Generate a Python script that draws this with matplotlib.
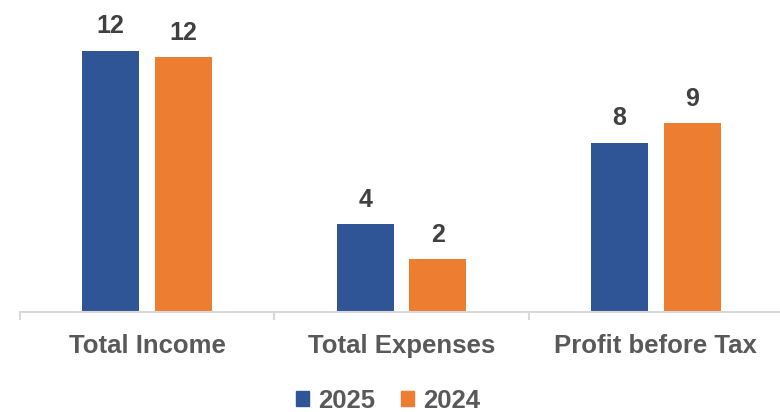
import matplotlib
matplotlib.use("Agg")
import matplotlib.pyplot as plt
import numpy as np
from matplotlib.patches import Patch

categories = ["Total Income", "Total Expenses", "Profit before Tax"]
series_names = ["2025", "2024"]
values_2025 = [11.9, 4.0, 7.7]
values_2024 = [11.6, 2.4, 8.6]
labels_2025 = ["12", "4", "8"]
labels_2024 = ["12", "2", "9"]

colors = ["#2F5597", "#ED7D31"]

plt.rcParams['font.family'] = ['Liberation Sans', 'DejaVu Sans']

fig = plt.figure(figsize=(7.8, 4.12), dpi=100)
ax = fig.add_axes([20/780, 1 - 312/412, 763/780, 312/412])

x = np.arange(len(categories))
w = 0.224
off = 0.143
b1 = ax.bar(x - off, values_2025, w, color=colors[0])
b2 = ax.bar(x + off, values_2024, w, color=colors[1])

for bars, labs in ((b1, labels_2025), (b2, labels_2024)):
    for b, l in zip(bars, labs):
        ax.annotate(l, (b.get_x() + b.get_width()/2, b.get_height()),
                    xytext=(0, 9), textcoords="offset points",
                    ha="center", va="bottom", fontsize=18,
                    fontweight="bold", color="#404040")

ax.set_xlim(-0.5, 2.5)
ax.set_ylim(0, 14.2)
ax.set_yticks([])
ax.set_xticks(x)
ax.set_xticklabels(categories, fontsize=18.5, fontweight="bold", color="#595959")
ax.tick_params(axis="x", which="major", length=0, pad=16)
ax.set_xticks([-0.5, 0.5, 1.5, 2.5], minor=True)
ax.tick_params(axis="x", which="minor", length=6, width=1.5, color="#D9D9D9", direction="out")
for s in ["top", "right", "left"]:
    ax.spines[s].set_visible(False)
ax.spines["bottom"].set_color("#D9D9D9")
ax.spines["bottom"].set_linewidth(1.5)

handles = [Patch(color=c, label=n) for c, n in zip(colors, series_names)]
fig.legend(handles=handles, loc="center", bbox_to_anchor=(388/780, 1 - 401/412),
           ncol=2, frameon=False, handlelength=0.52, handleheight=0.52,
           handletextpad=0.35, columnspacing=1.0,
           prop={"size": 18.5, "weight": "bold"}, labelcolor="#595959")

fig.savefig("out.png", dpi=100)
